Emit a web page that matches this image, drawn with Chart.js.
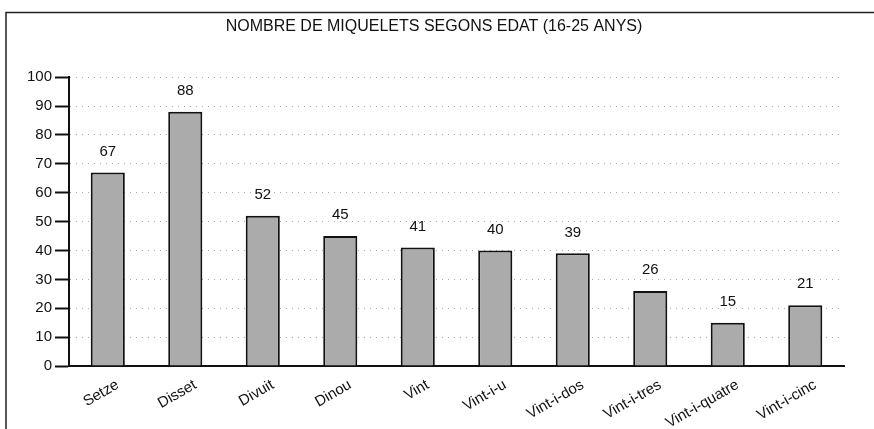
<!DOCTYPE html>
<html><head><meta charset="utf-8">
<script src="https://cdn.jsdelivr.net/npm/chart.js@4.4.1/dist/chart.umd.min.js"></script>
<style>html,body{margin:0;padding:0;background:#fff}#wrap{width:874px;height:429px;position:relative}</style>
</head><body><div id="wrap"><canvas id="c" width="874" height="429"></canvas></div>
<script>
const categories = ["Setze","Disset","Divuit","Dinou","Vint","Vint-i-u","Vint-i-dos","Vint-i-tres","Vint-i-quatre","Vint-i-cinc"];
const values = [67,88,52,45,41,40,39,26,15,21];
const titleText = "NOMBRE DE MIQUELETS SEGONS EDAT (16-25 ANYS)";

const frame = {
  id:'frame',
  beforeDraw(chart){
    const c = chart.ctx;
    c.save();
    c.strokeStyle = '#222'; c.lineWidth = 1.5;
    c.beginPath(); c.moveTo(6,429); c.lineTo(6,12.5); c.lineTo(874,12.5); c.stroke();
    c.restore();
  }
};
const valueLabels = {
  id:'valueLabels',
  afterDatasetsDraw(chart){
    const c = chart.ctx;
    const meta = chart.getDatasetMeta(0);
    c.save();
    c.font = '15px "Liberation Sans", Arial, sans-serif';
    c.fillStyle = '#111'; c.textAlign = 'center'; c.textBaseline = 'middle';
    meta.data.forEach((bar,i)=>{ c.fillText(String(values[i]), bar.x, bar.y - 21); });
    c.restore();
  }
};

new Chart(document.getElementById('c'), {
  type:'bar',
  data:{ labels: categories, datasets:[{ data: values, backgroundColor:'#ababab', borderColor:'#111', borderWidth:2, barPercentage:0.44, categoryPercentage:1 }]},
  options:{
    responsive:false, animation:false,
    layout:{ padding:{ left:24, right:30, top:8, bottom:0 } },
    plugins:{
      legend:{display:false}, tooltip:{enabled:false},
      title:{ display:true, text:titleText, color:'#111', font:{family:'"Liberation Sans", Arial, sans-serif', size:16, weight:'normal'}, padding:{top:9,bottom:41} }
    },
    scales:{
      y:{ min:0, max:100, ticks:{ stepSize:10, color:'#111', font:{family:'"Liberation Sans", Arial, sans-serif', size:15}, padding:3 },
          grid:{ color:'#aaa', tickBorderDash:[], tickColor:'#111', tickWidth:2, tickLength:14, lineWidth:1 },
          border:{ color:'#111', width:2, dash:[1,5] } },
      x:{ ticks:{ color:'#111', minRotation:30, maxRotation:30, labelOffset:10, font:{family:'"Liberation Sans", Arial, sans-serif', size:15}, padding:10 },
          grid:{ display:false, drawTicks:false },
          border:{ color:'#111', width:2 },
          afterFit(s){ s.height = 63; } }
    }
  },
  plugins:[frame, valueLabels]
});
</script></body></html>
